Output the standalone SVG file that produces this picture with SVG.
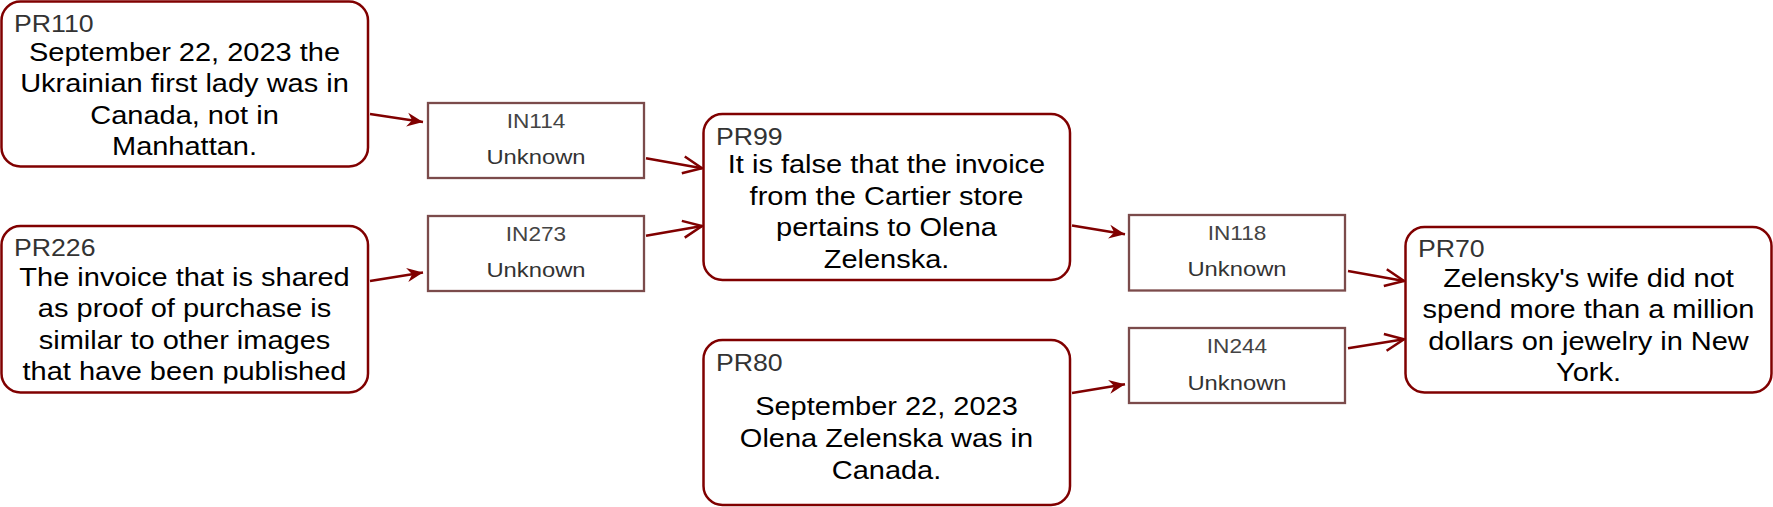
<svg xmlns="http://www.w3.org/2000/svg" width="1773" height="507" viewBox="0 0 1773 507">
<style>
.pr{fill:#fff;stroke:#800000;stroke-width:2.5}
.in{fill:#fff;stroke:#7b4b4b;stroke-width:2.3}
.lbl{font-family:"Liberation Sans",Arial,sans-serif;font-size:23px;fill:#333}
.txt{font-family:"Liberation Sans",Arial,sans-serif;font-size:25px;fill:#000;text-anchor:middle}
.inl{font-family:"Liberation Sans",Arial,sans-serif;font-size:19.5px;fill:#444;text-anchor:middle}
.inu{font-family:"Liberation Sans",Arial,sans-serif;font-size:20.5px;fill:#333;text-anchor:middle}
.e{fill:none;stroke:#800000;stroke-width:2.5}
.c{marker-end:url(#cl)}
.o{marker-end:url(#op)}
</style>
<defs>
<marker id="cl" viewBox="-20 -10 22 20" refX="0" refY="0" markerWidth="22" markerHeight="20" orient="auto" markerUnits="userSpaceOnUse">
<path d="M0,0 L-16,-7 L-11,0 L-16,7 Z" fill="#800000"/>
</marker>
<marker id="op" viewBox="-22 -11 24 22" refX="0" refY="0" markerWidth="24" markerHeight="22" orient="auto" markerUnits="userSpaceOnUse">
<path d="M-19,-8.5 L0,0 L-19,8.5" fill="none" stroke="#800000" stroke-width="2.5"/>
</marker>
<clipPath id="clip226"><rect x="1" y="226" width="367" height="157.5"/></clipPath>
</defs>
<g id="connectors">
<line class="e c" x1="370" y1="114" x2="423" y2="122"/>
<line class="e c" x1="370" y1="281" x2="423" y2="272.5"/>
<line class="e o" x1="646" y1="158.3" x2="702" y2="168.2"/>
<line class="e o" x1="646" y1="235.7" x2="702" y2="226"/>
<line class="e c" x1="1072" y1="225.5" x2="1125" y2="234.3"/>
<line class="e c" x1="1072" y1="393" x2="1125" y2="384.3"/>
<line class="e o" x1="1348" y1="271" x2="1404" y2="281"/>
<line class="e o" x1="1348" y1="348.3" x2="1404" y2="339.3"/>
</g>
<g id="PR110">
<rect class="pr" x="1.5" y="1.5" width="366.5" height="165" rx="19"/>
<g transform="translate(14,0) scale(1.16,1)"><text class="lbl" x="0" y="32">PR110</text></g>
<g transform="translate(184.5,0) scale(1.16,1)"><text class="txt"><tspan x="0" y="61">September 22, 2023 the</tspan><tspan x="0" y="92.5">Ukrainian first lady was in</tspan><tspan x="0" y="124">Canada, not in</tspan><tspan x="0" y="155.5">Manhattan.</tspan></text></g>
</g>
<g id="PR226">
<rect class="pr" x="1.5" y="226" width="366.5" height="166.5" rx="19"/>
<g transform="translate(14,0) scale(1.16,1)"><text class="lbl" x="0" y="256">PR226</text></g>
<g clip-path="url(#clip226)"><g transform="translate(184.5,0) scale(1.16,1)"><text class="txt"><tspan x="0" y="286">The invoice that is shared</tspan><tspan x="0" y="317.5">as proof of purchase is</tspan><tspan x="0" y="349">similar to other images</tspan><tspan x="0" y="380.5">that have been published</tspan></text></g></g>
</g>
<g id="IN114">
<rect class="in" x="428" y="103" width="216" height="75"/>
<g transform="translate(536,0) scale(1.16,1)"><text class="inl" x="0" y="128">IN114</text><text class="inu" x="0" y="164">Unknown</text></g>
</g>
<g id="IN273">
<rect class="in" x="428" y="216" width="216" height="75"/>
<g transform="translate(536,0) scale(1.16,1)"><text class="inl" x="0" y="241">IN273</text><text class="inu" x="0" y="277">Unknown</text></g>
</g>
<g id="PR99">
<rect class="pr" x="703.5" y="114" width="366.5" height="166" rx="19"/>
<g transform="translate(716,0) scale(1.16,1)"><text class="lbl" x="0" y="145">PR99</text></g>
<g transform="translate(886.5,0) scale(1.16,1)"><text class="txt"><tspan x="0" y="173.5">It is false that the invoice</tspan><tspan x="0" y="205">from the Cartier store</tspan><tspan x="0" y="236.5">pertains to Olena</tspan><tspan x="0" y="268">Zelenska.</tspan></text></g>
</g>
<g id="PR80">
<rect class="pr" x="703.5" y="340" width="366.5" height="165" rx="19"/>
<g transform="translate(716,0) scale(1.16,1)"><text class="lbl" x="0" y="371">PR80</text></g>
<g transform="translate(886.5,0) scale(1.16,1)"><text class="txt"><tspan x="0" y="415">September 22, 2023</tspan><tspan x="0" y="447">Olena Zelenska was in</tspan><tspan x="0" y="479">Canada.</tspan></text></g>
</g>
<g id="IN118">
<rect class="in" x="1129" y="215" width="216" height="75.5"/>
<g transform="translate(1237,0) scale(1.16,1)"><text class="inl" x="0" y="240.5">IN118</text><text class="inu" x="0" y="276.5">Unknown</text></g>
</g>
<g id="IN244">
<rect class="in" x="1129" y="328" width="216" height="75"/>
<g transform="translate(1237,0) scale(1.16,1)"><text class="inl" x="0" y="353.5">IN244</text><text class="inu" x="0" y="389.5">Unknown</text></g>
</g>
<g id="PR70">
<rect class="pr" x="1405.5" y="227" width="366" height="165.5" rx="19"/>
<g transform="translate(1418,0) scale(1.16,1)"><text class="lbl" x="0" y="257">PR70</text></g>
<g transform="translate(1588.5,0) scale(1.16,1)"><text class="txt"><tspan x="0" y="287">Zelensky's wife did not</tspan><tspan x="0" y="318.5">spend more than a million</tspan><tspan x="0" y="350">dollars on jewelry in New</tspan><tspan x="0" y="381.5">York.</tspan></text></g>
</g>
</svg>
